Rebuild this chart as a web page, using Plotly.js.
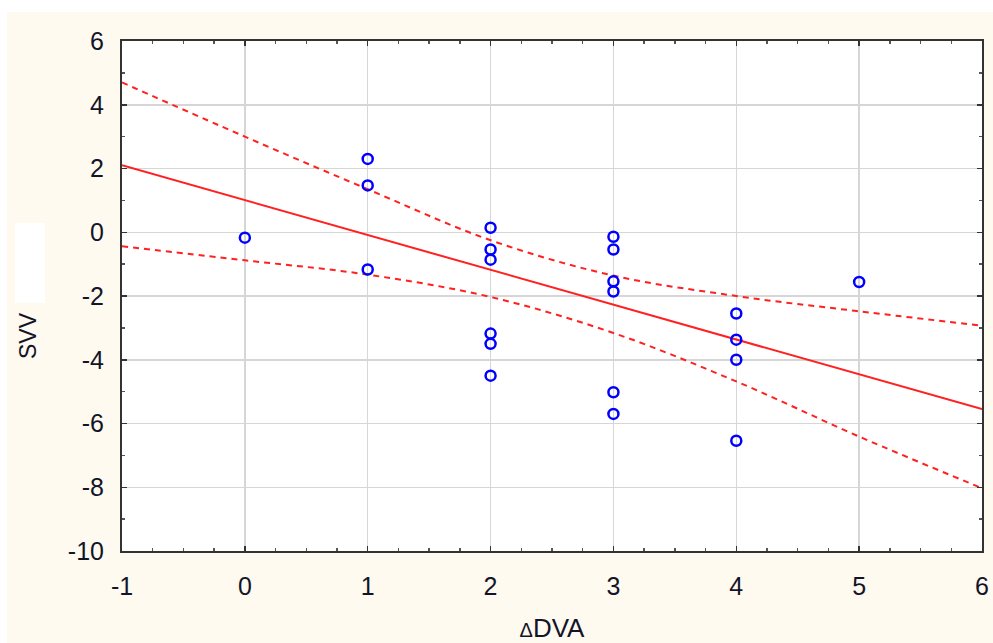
<!DOCTYPE html>
<html>
<head>
<meta charset="utf-8">
<script src="https://cdn.plot.ly/plotly-3.0.1.min.js"></script>
<style>html,body{margin:0;padding:0;background:#fff;}#chart{width:993px;height:643px;}</style>
</head>
<body>
<div id="chart"></div>
<script>
// Observed points (ΔDVA, SVV)
const dva = [0, 1, 1, 1, 2, 2, 2, 2, 2, 2, 3, 3, 3, 3, 3, 3, 4, 4, 4, 4, 5];
const svv = [-0.17, 2.3, 1.47, -1.17, 0.14, -0.54, -0.86, -3.18, -3.5, -4.5,
             -0.14, -0.54, -1.54, -1.86, -5.02, -5.7, -2.55, -3.37, -4.0, -6.54, -1.56];

// Fitted line
const fitX = [-1, 6];
const fitY = [2.1, -5.55];

// 95% confidence band
const bandX = [-1, 0, 1, 2, 3, 4, 5, 6];
const bandUpper = [4.7, 3.0, 1.35, -0.25, -1.36, -2.0, -2.48, -2.93];
const bandLower = [-0.44, -0.88, -1.33, -2.03, -3.16, -4.68, -6.41, -8.03];

const xTicks = [-1, 0, 1, 2, 3, 4, 5, 6];
const yTicks = [-10, -8, -6, -4, -2, 0, 2, 4, 6];

const red = '#ff2020';
const traces = [
  {x: bandX, y: bandUpper, mode: 'lines', line: {color: red, width: 2, dash: '6px,5px', shape: 'spline'}, hoverinfo: 'skip'},
  {x: bandX, y: bandLower, mode: 'lines', line: {color: red, width: 2, dash: '6px,5px', shape: 'spline'}, hoverinfo: 'skip'},
  {x: fitX, y: fitY, mode: 'lines', line: {color: red, width: 2}},
  {x: dva, y: svv, mode: 'markers', marker: {symbol: 'circle-open', size: 10, color: '#0000ff', line: {width: 2.5, color: '#0000ff'}}}
];

const fam = 'Liberation Sans, Arial, sans-serif';
const tickFont = {family: fam, size: 25, color: '#141428'};
const layout = {
  width: 993, height: 643,
  margin: {l: 122, r: 11, t: 41, b: 92},
  paper_bgcolor: '#fefaf0',
  plot_bgcolor: '#ffffff',
  showlegend: false,
  xaxis: {
    range: [-1, 6], tickvals: xTicks, ticktext: xTicks.map(String),
    showline: true, linecolor: '#333', linewidth: 2, mirror: 'ticks',
    ticks: 'inside', ticklen: 5, tickwidth: 1.5, tickcolor: '#333',
    minor: {dtick: 0.25, ticks: 'inside', ticklen: 3, tickwidth: 1.5, tickcolor: '#555', showgrid: false},
    showgrid: true, gridcolor: '#d6d6d6', gridwidth: 1.5, zeroline: false,
    tickfont: tickFont, ticklabelstandoff: 12,
    title: {text: '<span style="font-size:20px">Δ</span>DVA', font: {family: fam, size: 26, color: '#141428'}, standoff: 22}
  },
  yaxis: {
    range: [-10, 6], tickvals: yTicks, ticktext: yTicks.map(String),
    showline: true, linecolor: '#333', linewidth: 2, mirror: 'ticks',
    ticks: 'inside', ticklen: 5, tickwidth: 1.5, tickcolor: '#333',
    minor: {dtick: 1, ticks: 'inside', ticklen: 3, tickwidth: 1.5, tickcolor: '#555', showgrid: false},
    showgrid: true, gridcolor: '#d6d6d6', gridwidth: 1.5, zeroline: false,
    tickfont: tickFont, ticklabelstandoff: 11
  },
  annotations: [
    {text: 'SVV', textangle: -90, xref: 'paper', yref: 'paper', x: (28-122)/860, y: (551-336)/510,
     xanchor: 'center', yanchor: 'middle', showarrow: false, font: {family: fam, size: 23, color: '#141428'}}
  ],
  shapes: [
    {type: 'rect', xref: 'paper', yref: 'paper', x0: -122/860, x1: 871/860, y0: (643-92-12)/510, y1: 3, fillcolor: '#ffffff', line: {width: 0}, layer: 'below'},
    {type: 'rect', xref: 'paper', yref: 'paper', x0: -1, x1: -115/860, y0: -1, y1: 3, fillcolor: '#ffffff', line: {width: 0}, layer: 'below'},
    {type: 'rect', xref: 'paper', yref: 'paper', x0: -107/860, x1: -77/860, y0: (551-303)/510, y1: (551-223)/510, fillcolor: '#ffffff', line: {width: 0}, layer: 'above'}
  ]
};
Plotly.newPlot('chart', traces, layout, {displayModeBar: false, staticPlot: true});
</script>
</body>
</html>
